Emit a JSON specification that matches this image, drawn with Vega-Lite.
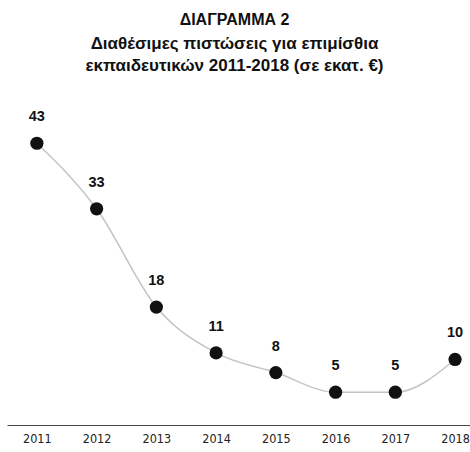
{
  "$schema": "https://vega.github.io/schema/vega-lite/v6.json",
  "autosize": {"type": "none"},
  "width": 463,
  "height": 325,
  "padding": {"left": 7, "top": 100, "right": 0, "bottom": 27},
  "background": "white",
  "title": {
    "text": "ΔΙΑΓΡΑΜΜΑ 2",
    "subtitle": ["Διαθέσιμες πιστώσεις για επιμίσθια", "εκπαιδευτικών 2011-2018 (σε εκατ. €)"],
    "anchor": "middle",
    "dx": -4,
    "font": "Liberation Sans Narrow, Arial Narrow, sans-serif",
    "fontSize": 16,
    "fontWeight": "bold",
    "color": "#111",
    "subtitleFont": "Liberation Sans Narrow, Arial Narrow, sans-serif",
    "subtitleFontSize": 17,
    "subtitleFontWeight": "bold",
    "subtitleColor": "#111",
    "subtitleLineHeight": 22,
    "subtitlePadding": 8,
    "offset": 26
  },
  "data": {
    "values": [
      {"year": 2011, "value": 43},
      {"year": 2012, "value": 33},
      {"year": 2013, "value": 18},
      {"year": 2014, "value": 11},
      {"year": 2015, "value": 8},
      {"year": 2016, "value": 5},
      {"year": 2017, "value": 5},
      {"year": 2018, "value": 10}
    ]
  },
  "encoding": {
    "x": {
      "field": "year",
      "type": "quantitative",
      "scale": {"domain": [2010.5, 2018.25], "nice": false, "zero": false},
      "axis": {
        "title": null,
        "values": [2011, 2012, 2013, 2014, 2015, 2016, 2017, 2018],
        "format": "d",
        "grid": false,
        "ticks": false,
        "domainColor": "#444",
        "domainWidth": 1.2,
        "labelFont": "DejaVu Sans Condensed, Liberation Sans Narrow, sans-serif",
        "labelFontSize": 12.5,
        "labelColor": "#222",
        "labelPadding": 7,
        "labelFlush": false
      }
    },
    "y": {
      "field": "value",
      "type": "quantitative",
      "scale": {"domain": [0, 49.6], "nice": false},
      "axis": null
    }
  },
  "layer": [
    {"mark": {"type": "line", "interpolate": "monotone", "color": "#c4c4c4", "strokeWidth": 1.5}},
    {"mark": {"type": "point", "filled": true, "color": "#111", "size": 175, "opacity": 1}},
    {
      "mark": {"type": "text", "dy": -26, "font": "Liberation Sans Narrow, Arial Narrow, sans-serif", "fontSize": 14.5, "fontWeight": "bold", "color": "#111"},
      "encoding": {"text": {"field": "value", "type": "quantitative"}}
    }
  ],
  "config": {"view": {"stroke": null}}
}
